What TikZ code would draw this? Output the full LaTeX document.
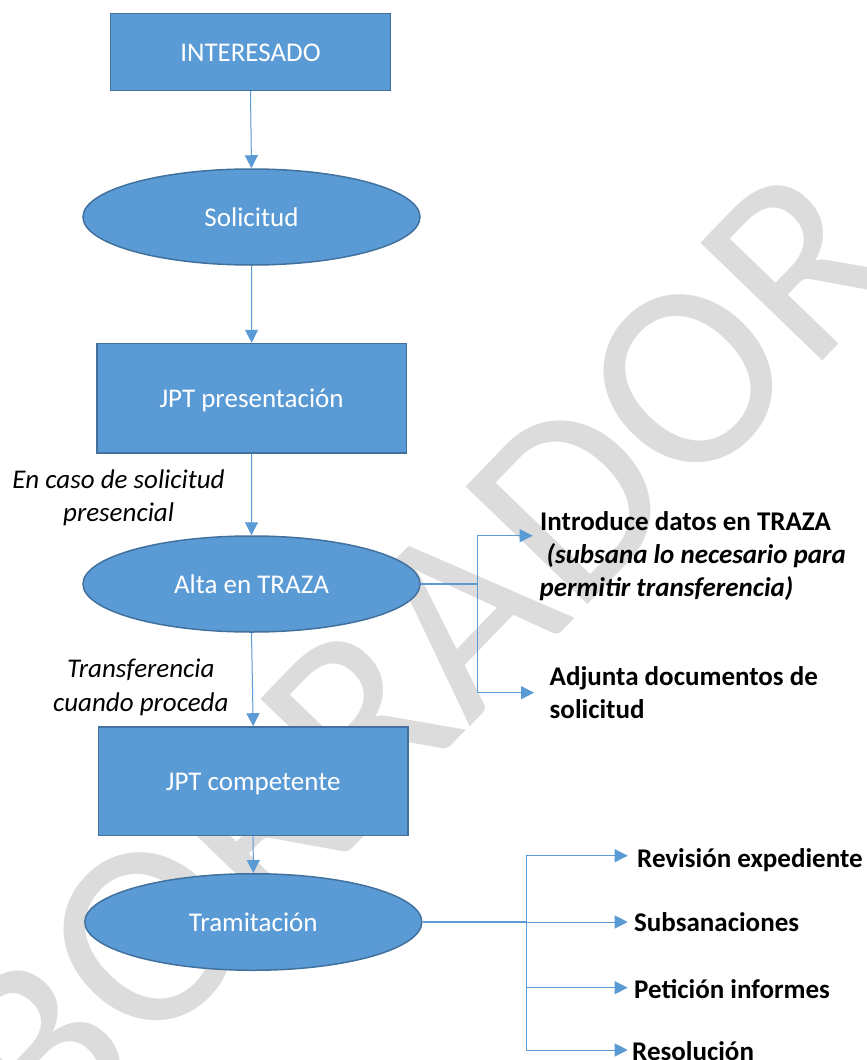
\documentclass[tikz,border=0pt]{standalone}
\usepackage{fontspec}
\setmainfont{Carlito}
\usetikzlibrary{shapes.geometric,arrows.meta}
\definecolor{ofill}{HTML}{5B9BD5}
\definecolor{oedge}{HTML}{41719C}
\definecolor{wmark}{HTML}{DCDCDC}
\tikzset{
  base font/.style={font=\fontsize{27}{33.4}\selectfont},
  shapebase/.style={base font, fill=ofill, draw=oedge, line width=1.5pt, text=white,
    inner sep=0pt, text height=18.9pt, text depth=0pt},
  boxnode/.style={shapebase, rectangle},
  ovalnode/.style={shapebase, ellipse, minimum width=337pt, minimum height=96pt},
  conn/.style={draw=ofill, line width=1pt, -{Triangle[length=13pt,width=13pt]}},
  plainconn/.style={draw=ofill, line width=1pt},
  mainconn/.style={draw=ofill, line width=1.4pt},
  lbl/.style={base font, inner sep=0pt, text=black},
  itlbl/.style={lbl, font=\fontsize{27}{33.4}\selectfont\itshape, anchor=base},
  bdlbl/.style={lbl, font=\fontsize{27}{33.4}\selectfont\bfseries, anchor=base west},
  bilbl/.style={lbl, font=\fontsize{27}{33.4}\selectfont\bfseries\itshape, anchor=base west}
}
\begin{document}
\begin{tikzpicture}[x=1pt,y=-1pt]
\useasboundingbox[fill=white] (0,0) rectangle (867,1060);
% watermark
\begin{scope}
\clip (0,0) rectangle (867,1060);
\node[rotate=46, text=wmark, font=\fontsize{264}{264}\selectfont, inner sep=0pt] (wm) at (418,658) {BORRADOR};
\end{scope}
% main flow
\node[boxnode, minimum width=280pt, minimum height=77pt] (interesado) at (250.5,52) {INTERESADO};
\node[ovalnode] (solicitud) at (251.5,217) {Solicitud};
\node[boxnode, minimum width=309.6pt, minimum height=109.5pt] (jptp) at (251.6,398.3) {JPT presentación};
\node[ovalnode] (alta) at (251.5,584) {Alta en TRAZA};
\node[boxnode, minimum width=309.6pt, minimum height=108.7pt] (jptc) at (253.2,781.3) {JPT competente};
\node[ovalnode, minimum height=96.5pt] (tram) at (253.3,922) {Tramitación};
\draw[conn] (interesado.south) -- (solicitud.north);
\draw[conn] (solicitud.south) -- (jptp.north);
\draw[conn] (jptp.south) -- (alta.north);
\draw[conn] (alta.south) -- (jptc.north);
\draw[conn] (jptc.south) -- (tram.north);
% side labels
\node[itlbl] (caso1) at (118.6,488.3) {En caso de solicitud};
\node[itlbl] (caso2) at (118.6,521.7) {presencial};
\node[itlbl] (trans1) at (140.8,677.7) {Transferencia};
\node[itlbl] (trans2) at (140.8,711) {cuando proceda};
% upper bracket
\coordinate (b1) at (477.3,584);
\coordinate (b1t) at (477.3,535.7);
\coordinate (b1b) at (477.3,692.7);
\coordinate (t1) at (532.7,535.7);
\coordinate (t2) at (534,692.7);
\draw[mainconn] (alta.east) -- (b1);
\draw[plainconn] (b1t) -- (b1b);
\draw[conn] (b1t) -- (t1);
\draw[conn] (b1b) -- (t2);
\node[bdlbl] (intro1) at (540,530.7) {Introduce datos en TRAZA};
\node[bilbl] (intro2) at (546.5,563.5) {(subsana lo necesario para};
\node[bilbl] (intro3) at (539.5,596.7) {permitir transferencia)};
\node[bdlbl] (adj1) at (549.5,685) {Adjunta documentos de};
\node[bdlbl] (adj2) at (549.5,718.3) {solicitud};
% lower bracket
\coordinate (b2) at (526,922);
\coordinate (b2t) at (526,855.7);
\coordinate (b2b) at (526,1050);
\coordinate (r1) at (627.7,855.7);
\coordinate (r2) at (627.7,922);
\coordinate (r3) at (627.7,987.7);
\coordinate (r4) at (627.7,1050);
\draw[plainconn] (b2t) -- (b2b);
\draw[mainconn] (tram.east) -- (b2);
\draw[conn] (b2) -- (r2);
\draw[conn] (b2t) -- (r1);
\draw[conn] (b2 |- r3) -- (r3);
\draw[conn] (b2b) -- (r4);
\node[bdlbl] (rev) at (637,867.3) {Revisión expediente};
\node[bdlbl] (sub) at (634,931) {Subsanaciones};
\node[bdlbl] (pet) at (634,998.3) {Petición informes};
\node[bdlbl] (res) at (632,1060) {Resolución};
\end{tikzpicture}
\end{document}
